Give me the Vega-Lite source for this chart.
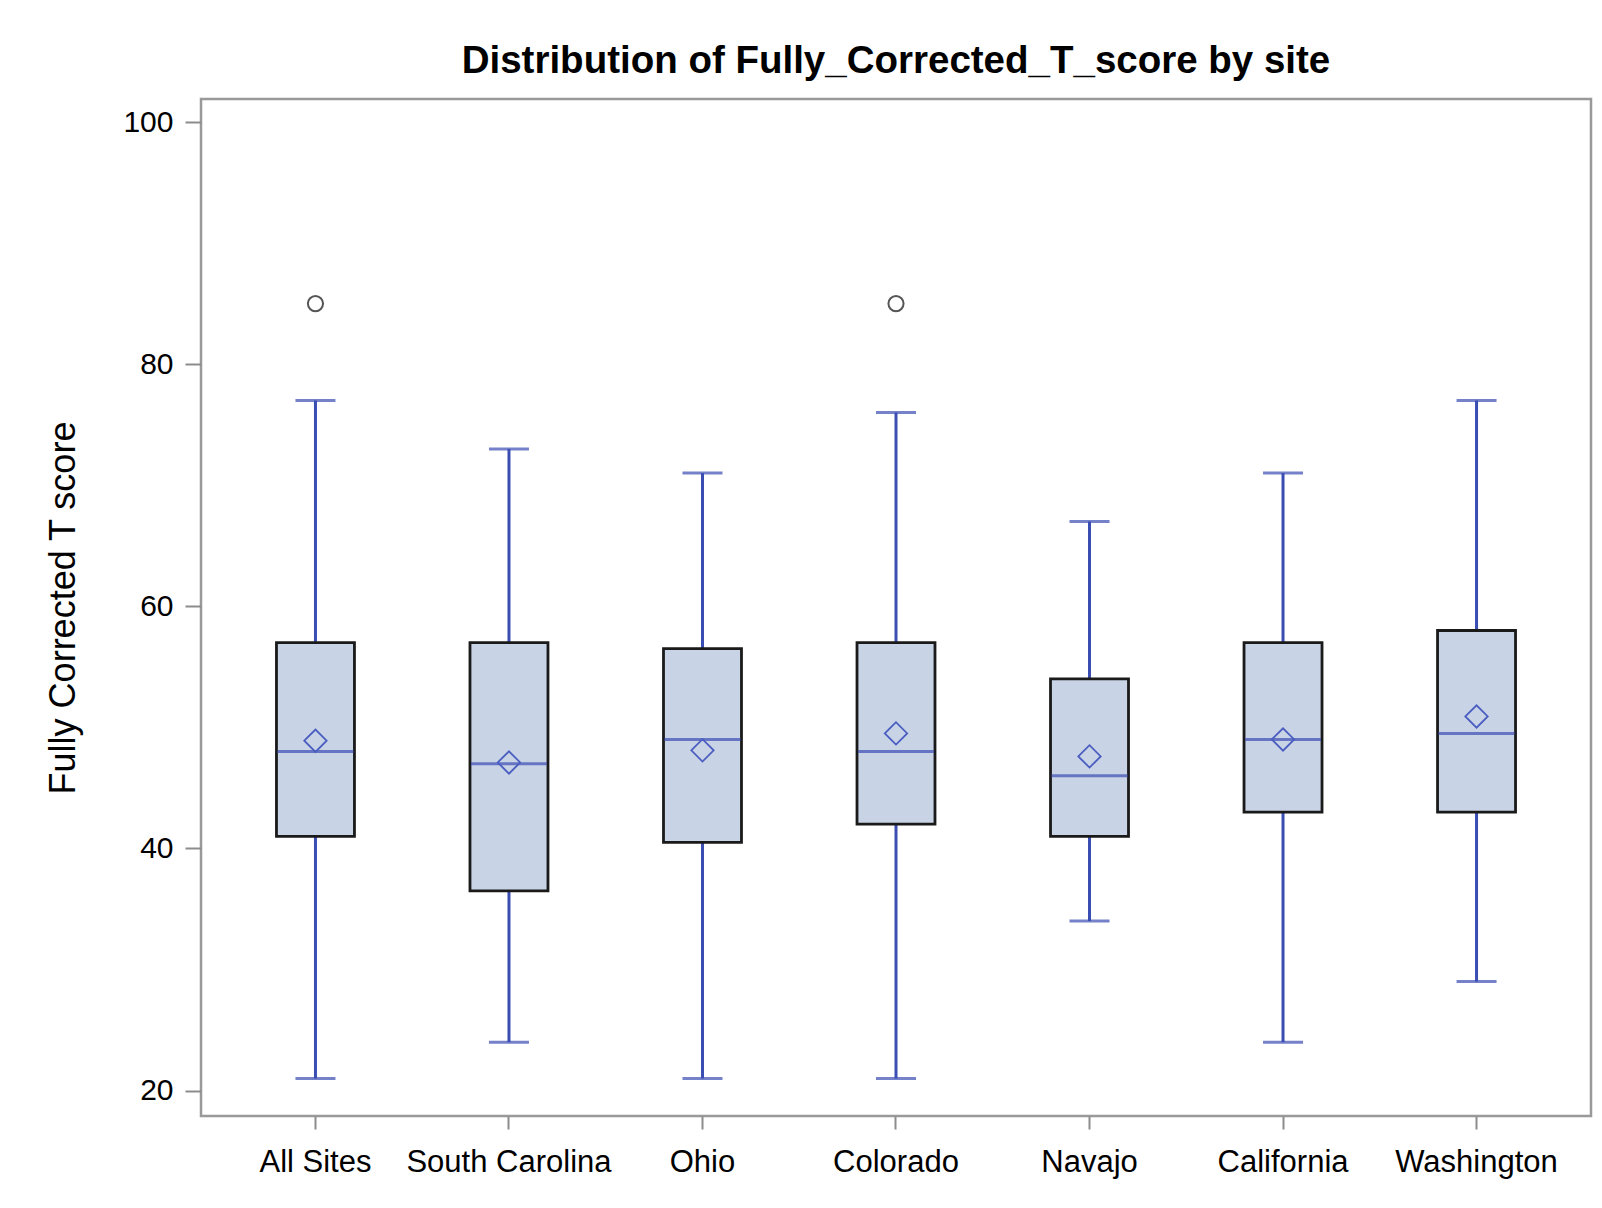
{
  "$schema": "https://vega.github.io/schema/vega-lite/v6.json",
  "autosize": {"type": "none"},
  "width": 1390,
  "height": 1017,
  "padding": {"left": 201, "top": 99, "right": 11, "bottom": 92},
  "background": "white",
  "title": {
    "text": "Distribution of Fully_Corrected_T_score by site",
    "font": "Liberation Sans",
    "fontSize": 38.5,
    "fontWeight": "bold",
    "color": "#000000",
    "anchor": "middle",
    "offset": 18
  },
  "datasets": {
    "stats": [
      {"site": "All Sites", "lower": 21, "q1": 41, "median": 48, "q3": 57, "upper": 77, "mean": 48.9},
      {"site": "South Carolina", "lower": 24, "q1": 36.5, "median": 47, "q3": 57, "upper": 73, "mean": 47.1},
      {"site": "Ohio", "lower": 21, "q1": 40.5, "median": 49, "q3": 56.5, "upper": 71, "mean": 48.1},
      {"site": "Colorado", "lower": 21, "q1": 42, "median": 48, "q3": 57, "upper": 76, "mean": 49.5},
      {"site": "Navajo", "lower": 34, "q1": 41, "median": 46, "q3": 54, "upper": 67, "mean": 47.6},
      {"site": "California", "lower": 24, "q1": 43, "median": 49, "q3": 57, "upper": 71, "mean": 49.0},
      {"site": "Washington", "lower": 29, "q1": 43, "median": 49.5, "q3": 58, "upper": 77, "mean": 50.9}
    ],
    "outliers": [
      {"site": "All Sites", "value": 85},
      {"site": "Colorado", "value": 85}
    ]
  },
  "data": {"name": "stats"},
  "encoding": {
    "x": {
      "field": "site",
      "type": "nominal",
      "sort": ["All Sites", "South Carolina", "Ohio", "Colorado", "Navajo", "California", "Washington"],
      "scale": {"paddingInner": 0.597, "paddingOuter": 0.39},
      "axis": {
        "title": null,
        "labelAngle": 0,
        "labelFont": "Liberation Sans",
        "labelFontSize": 31,
        "labelLimit": 0,
        "labelColor": "#000000",
        "labelPadding": 18,
        "tickSize": 13,
        "tickWidth": 2,
        "tickColor": "#8c8c8c",
        "domain": false,
        "grid": false
      }
    }
  },
  "layer": [
    {
      "mark": {"type": "rule", "color": "#3A4DB3", "strokeWidth": 3},
      "encoding": {
        "y": {
          "field": "lower",
          "type": "quantitative",
          "scale": {"domain": [17.9, 101.9], "nice": false, "zero": false},
          "axis": {
            "title": "Fully Corrected T score",
            "titleFont": "Liberation Sans",
            "titleFontSize": 36,
            "titleFontWeight": "normal",
            "titleColor": "#000000",
            "titlePadding": 40,
            "values": [20, 40, 60, 80, 100],
            "labelFont": "Liberation Sans",
            "labelFontSize": 30,
            "labelColor": "#000000",
            "labelPadding": 12,
            "tickSize": 16,
            "tickWidth": 2,
            "tickColor": "#8c8c8c",
            "domain": false,
            "grid": false
          }
        },
        "y2": {"field": "q1"}
      }
    },
    {
      "mark": {"type": "rule", "color": "#3A4DB3", "strokeWidth": 3},
      "encoding": {
        "y": {"field": "q3", "type": "quantitative"},
        "y2": {"field": "upper"}
      }
    },
    {
      "mark": {"type": "tick", "color": "#3A4DB3", "thickness": 3, "size": 40, "orient": "horizontal"},
      "encoding": {"y": {"field": "lower", "type": "quantitative"}}
    },
    {
      "mark": {"type": "tick", "color": "#3A4DB3", "thickness": 3, "size": 40, "orient": "horizontal"},
      "encoding": {"y": {"field": "upper", "type": "quantitative"}}
    },
    {
      "mark": {"type": "bar", "fill": "#C9D3E6", "stroke": "#1a1a1a", "strokeWidth": 2.8},
      "encoding": {
        "y": {"field": "q1", "type": "quantitative"},
        "y2": {"field": "q3"}
      }
    },
    {
      "mark": {"type": "tick", "color": "#3A4DB3", "thickness": 3, "size": 76, "orient": "horizontal"},
      "encoding": {"y": {"field": "median", "type": "quantitative"}}
    },
    {
      "mark": {"type": "point", "shape": "diamond", "filled": false, "stroke": "#4A5DC0", "strokeWidth": 1.8, "size": 500, "opacity": 1},
      "encoding": {"y": {"field": "mean", "type": "quantitative"}}
    },
    {
      "data": {"name": "outliers"},
      "mark": {"type": "point", "shape": "circle", "filled": false, "stroke": "#555555", "strokeWidth": 2, "size": 230, "opacity": 1},
      "encoding": {"y": {"field": "value", "type": "quantitative"}}
    }
  ],
  "config": {
    "view": {"stroke": "#999999", "strokeWidth": 2.5}
  }
}
